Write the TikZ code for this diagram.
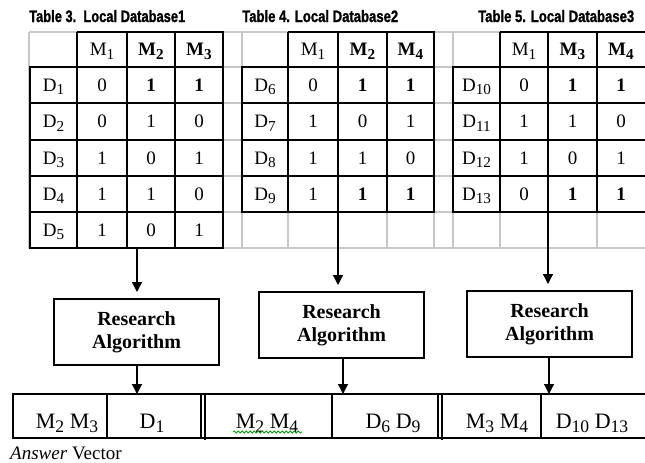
\documentclass[tikz,border=0pt]{standalone}
\usepackage{fontspec}
\setmainfont{Liberation Serif}
\setsansfont{Liberation Sans}
\newfontfamily\ttlfont[BoldFeatures={FakeBold=1.4}]{Liberation Sans}
\usepackage{graphicx}
\usetikzlibrary{arrows.meta,decorations.pathmorphing}
\newcommand{\sbx}[1]{\raisebox{-0.2em}{\scalebox{0.8}{#1}}}
\newcommand{\ttlbox}[1]{\resizebox{156pt}{12pt}{\ttlfont\bfseries #1}}
\begin{document}
\begin{tikzpicture}[x=1pt,y=-1pt,
  grid/.style={draw=black!22, line width=1.3pt},
  tbl/.style={draw=black, line width=1.4pt},
  cell/.style={inner sep=0pt, anchor=base, font=\fontsize{19}{21}\selectfont},
  ans/.style={inner sep=0pt, anchor=base, font=\fontsize{22}{24}\selectfont},
  algbox/.style={draw, line width=1.4pt, minimum width=165pt, minimum height=66pt,
     align=center, inner sep=0pt, font=\fontsize{20}{23}\selectfont\bfseries},
  flow/.style={line width=1.3pt, -{Triangle[length=10pt,width=10pt]}},
  ttl/.style={inner sep=0pt, anchor=base west},
]
\useasboundingbox (0,0) rectangle (645,463);

% titles
\node[ttl] (ttl1) at (29,22) {\ttlbox{Table 3.\ \ Local Database1}};
\node[ttl] (ttl2) at (242,22) {\ttlbox{Table 4. Local Database2}};
\node[ttl] (ttl3) at (478,22) {\ttlbox{Table 5. Local Database3}};

% light grid
\foreach \y in {32,67,103,140,176,212,248} \draw[grid] (29,\y) -- (646,\y);
\foreach \x in {29,77,127,175,223,242,288,338,387,434,453,500,548,597} \draw[grid] (\x,32) -- (\x,248);

% table 1 (black)
\draw[tbl] (77,32) -- (223,32) -- (223,248) -- (30,248) -- (30,67) -- (223,67);
\foreach \y in {103,140,176,212} \draw[tbl] (30,\y) -- (223,\y);
\foreach \x in {77,127,175} \draw[tbl] (\x,32) -- (\x,248);
% table 2
\draw[tbl] (288,32) -- (434,32) -- (434,212) -- (242,212) -- (242,67) -- (434,67);
\foreach \y in {103,140,176} \draw[tbl] (242,\y) -- (434,\y);
\foreach \x in {288,338,387} \draw[tbl] (\x,32) -- (\x,212);
% table 3
\draw[tbl] (500,32) -- (646,32);
\draw[tbl] (646,212) -- (453,212) -- (453,67) -- (646,67);
\foreach \y in {103,140,176} \draw[tbl] (453,\y) -- (646,\y);
\foreach \x in {500,548,597} \draw[tbl] (\x,32) -- (\x,212);

% table 1 texts
\node[cell] (t1h1) at (102,55.5) {M\sbx{1}};
\node[cell] (t1h2) at (151,55.5) {\textbf{M\sbx{2}}};
\node[cell] (t1h3) at (199,55.5) {\textbf{M\sbx{3}}};
\foreach \yb/\lab/\a/\b/\c [count=\i] in {
  91/1/0/\textbf{1}/\textbf{1},
  127.5/2/0/1/0,
  164/3/1/0/1,
  200/4/1/1/0,
  236/5/1/0/1}{
  \node[cell] (t1l\i) at (53.5,\yb) {D\sbx{\lab}};
  \node[cell] (t1a\i) at (102,\yb) {\a};
  \node[cell] (t1b\i) at (151,\yb) {\b};
  \node[cell] (t1c\i) at (199,\yb) {\c};
}
% table 2 texts
\node[cell] (t2h1) at (313,55.5) {M\sbx{1}};
\node[cell] (t2h2) at (362.5,55.5) {\textbf{M\sbx{2}}};
\node[cell] (t2h3) at (410.5,55.5) {\textbf{M\sbx{4}}};
\foreach \yb/\lab/\a/\b/\c [count=\i] in {
  91/6/0/\textbf{1}/\textbf{1},
  127.5/7/1/0/1,
  164/8/1/1/0,
  200/9/1/\textbf{1}/\textbf{1}}{
  \node[cell] (t2l\i) at (265,\yb) {D\sbx{\lab}};
  \node[cell] (t2a\i) at (313,\yb) {\a};
  \node[cell] (t2b\i) at (362.5,\yb) {\b};
  \node[cell] (t2c\i) at (410.5,\yb) {\c};
}
% table 3 texts
\node[cell] (t3h1) at (524,55.5) {M\sbx{1}};
\node[cell] (t3h2) at (572.5,55.5) {\textbf{M\sbx{3}}};
\node[cell] (t3h3) at (621,55.5) {\textbf{M\sbx{4}}};
\foreach \yb/\lab/\a/\b/\c [count=\i] in {
  91/10/0/\textbf{1}/\textbf{1},
  127.5/11/1/1/0,
  164/12/1/0/1,
  200/13/0/\textbf{1}/\textbf{1}}{
  \node[cell] (t3l\i) at (476.5,\yb) {D\sbx{\lab}};
  \node[cell] (t3a\i) at (524,\yb) {\a};
  \node[cell] (t3b\i) at (572.5,\yb) {\b};
  \node[cell] (t3c\i) at (621,\yb) {\c};
}

% algorithm boxes
\node[algbox] (alg1) at (136.5,332) {Research\\Algorithm};
\node[algbox] (alg2) at (341.5,325) {Research\\Algorithm};
\node[algbox] (alg3) at (549.5,324) {Research\\Algorithm};

% connector ends
\coordinate (s1) at (137,248);
\coordinate (s2) at (338,212);
\coordinate (s3) at (548,212);
\coordinate (e1) at (137,292);
\coordinate (e2) at (338,285);
\coordinate (e3) at (548,284);
\coordinate (o1) at (137,394);
\coordinate (o2) at (343,394);
\coordinate (o3) at (549,394);
\draw[flow] (s1) -- (e1);
\draw[flow] (s2) -- (e2);
\draw[flow] (s3) -- (e3);
\draw[flow] (alg1.south -| o1) -- (o1);
\draw[flow] (alg2.south -| o2) -- (o2);
\draw[flow] (alg3.south -| o3) -- (o3);

% answer row
\draw[tbl] (646,394) -- (13,394) -- (13,438) -- (646,438);
\foreach \x in {107,201,332,438,541} \draw[tbl] (\x,394) -- (\x,438);
\foreach \x in {205,442} \draw[tbl] (\x,394) -- (\x,440);
\node[ans] (r1) at (67,428) {M\sbx{2} M\sbx{3}};
\node[ans] (r2) at (152,428) {D\sbx{1}};
\node[ans] (r3) at (267,428) {M\sbx{2} M\sbx{4}};
\node[ans] (r4) at (393,428) {D\sbx{6} D\sbx{9}};
\node[ans] (r5) at (497,428) {M\sbx{3} M\sbx{4}};
\node[ans] (r6) at (592,428) {D\sbx{10} D\sbx{13}};
\draw[green!60!black, line width=0.8pt, decorate,
  decoration={snake, amplitude=1pt, segment length=4pt}] (233,432) -- (302,432);

\node[inner sep=0pt, anchor=base west, font=\fontsize{19}{22}\selectfont] (av) at (10,459) {\textit{Answer} Vector};
\end{tikzpicture}
\end{document}
